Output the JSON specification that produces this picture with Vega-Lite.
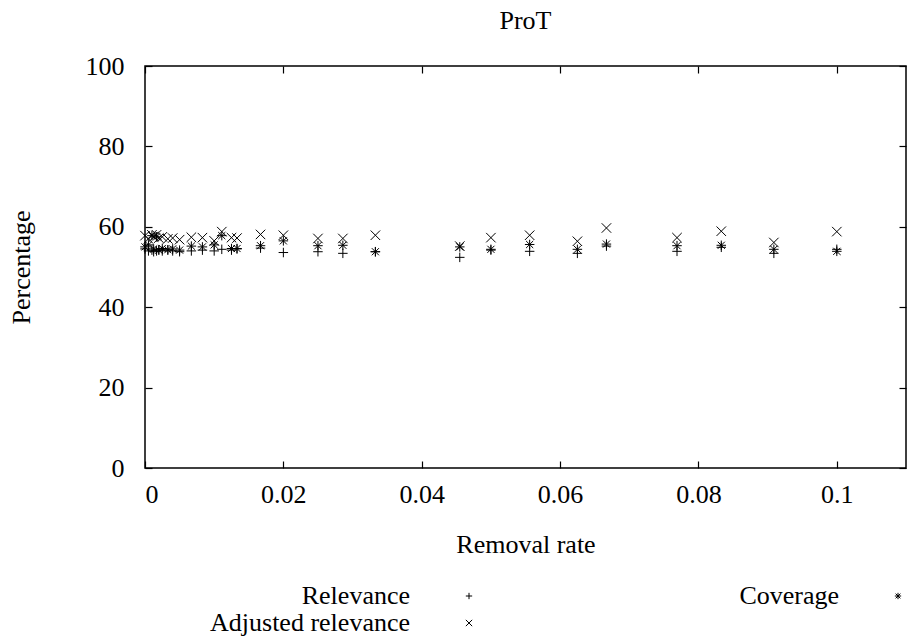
{
  "$schema": "https://vega.github.io/schema/vega-lite/v6.json",
  "width": 761,
  "height": 402,
  "autosize": "none",
  "padding": {"left": 145, "top": 66, "right": 2, "bottom": 176},
  "background": "white",
  "title": {"text": "ProT", "font": "Liberation Serif", "fontSize": 26, "fontWeight": "normal", "color": "black", "offset": 19, "anchor": "middle"},
  "config": {
    "view": {"stroke": "black", "strokeWidth": 1.5},
    "font": "Liberation Serif",
    "axis": {"labelFont": "Liberation Serif", "titleFont": "Liberation Serif"},
    "legend": {"labelFont": "Liberation Serif"}
  },
  "datasets": {
    "pts": [
      {"r": 0, "s": "Relevance", "p": 54.5}, {"r": 0, "s": "Adjusted relevance", "p": 57.8}, {"r": 0, "s": "Coverage", "p": 55.0},
      {"r": 0.0005, "s": "Relevance", "p": 54.0}, {"r": 0.0005, "s": "Adjusted relevance", "p": 57.0}, {"r": 0.0005, "s": "Coverage", "p": 55.5},
      {"r": 0.001, "s": "Relevance", "p": 54.2}, {"r": 0.001, "s": "Adjusted relevance", "p": 58.0}, {"r": 0.001, "s": "Coverage", "p": 57.8},
      {"r": 0.00125, "s": "Relevance", "p": 53.8}, {"r": 0.00125, "s": "Adjusted relevance", "p": 57.5}, {"r": 0.00125, "s": "Coverage", "p": 54.5},
      {"r": 0.00167, "s": "Relevance", "p": 54.0}, {"r": 0.00167, "s": "Adjusted relevance", "p": 58.0}, {"r": 0.00167, "s": "Coverage", "p": 57.5},
      {"r": 0.002, "s": "Relevance", "p": 54.3}, {"r": 0.002, "s": "Adjusted relevance", "p": 57.2}, {"r": 0.002, "s": "Coverage", "p": 54.2},
      {"r": 0.0025, "s": "Relevance", "p": 54.0}, {"r": 0.0025, "s": "Adjusted relevance", "p": 57.5}, {"r": 0.0025, "s": "Coverage", "p": 54.6},
      {"r": 0.0033, "s": "Relevance", "p": 54.2}, {"r": 0.0033, "s": "Adjusted relevance", "p": 57.0}, {"r": 0.0033, "s": "Coverage", "p": 54.3},
      {"r": 0.004, "s": "Relevance", "p": 54.0}, {"r": 0.004, "s": "Adjusted relevance", "p": 57.2}, {"r": 0.004, "s": "Coverage", "p": 54.5},
      {"r": 0.005, "s": "Relevance", "p": 53.8}, {"r": 0.005, "s": "Adjusted relevance", "p": 56.8}, {"r": 0.005, "s": "Coverage", "p": 54.2},
      {"r": 0.0067, "s": "Relevance", "p": 54.0}, {"r": 0.0067, "s": "Adjusted relevance", "p": 57.4}, {"r": 0.0067, "s": "Coverage", "p": 55.2},
      {"r": 0.0083, "s": "Relevance", "p": 54.2}, {"r": 0.0083, "s": "Adjusted relevance", "p": 57.3}, {"r": 0.0083, "s": "Coverage", "p": 55.0},
      {"r": 0.01, "s": "Relevance", "p": 54.0}, {"r": 0.01, "s": "Adjusted relevance", "p": 56.5}, {"r": 0.01, "s": "Coverage", "p": 55.5},
      {"r": 0.0111, "s": "Relevance", "p": 54.4}, {"r": 0.0111, "s": "Adjusted relevance", "p": 58.8}, {"r": 0.0111, "s": "Coverage", "p": 57.8},
      {"r": 0.0125, "s": "Relevance", "p": 54.2}, {"r": 0.0125, "s": "Adjusted relevance", "p": 57.3}, {"r": 0.0125, "s": "Coverage", "p": 54.6},
      {"r": 0.0133, "s": "Relevance", "p": 54.5}, {"r": 0.0133, "s": "Adjusted relevance", "p": 57.2}, {"r": 0.0133, "s": "Coverage", "p": 54.6},
      {"r": 0.0167, "s": "Relevance", "p": 54.7}, {"r": 0.0167, "s": "Adjusted relevance", "p": 58.1}, {"r": 0.0167, "s": "Coverage", "p": 55.3},
      {"r": 0.02, "s": "Relevance", "p": 53.6}, {"r": 0.02, "s": "Adjusted relevance", "p": 57.9}, {"r": 0.02, "s": "Coverage", "p": 56.5},
      {"r": 0.025, "s": "Relevance", "p": 53.8}, {"r": 0.025, "s": "Adjusted relevance", "p": 57.1}, {"r": 0.025, "s": "Coverage", "p": 55.3},
      {"r": 0.0286, "s": "Relevance", "p": 53.4}, {"r": 0.0286, "s": "Adjusted relevance", "p": 57.1}, {"r": 0.0286, "s": "Coverage", "p": 55.4},
      {"r": 0.0333, "s": "Relevance", "p": 53.8}, {"r": 0.0333, "s": "Adjusted relevance", "p": 57.9}, {"r": 0.0333, "s": "Coverage", "p": 53.8},
      {"r": 0.0455, "s": "Relevance", "p": 52.4}, {"r": 0.0455, "s": "Adjusted relevance", "p": 55.2}, {"r": 0.0455, "s": "Coverage", "p": 55.0},
      {"r": 0.05, "s": "Relevance", "p": 54.2}, {"r": 0.05, "s": "Adjusted relevance", "p": 57.3}, {"r": 0.05, "s": "Coverage", "p": 54.4},
      {"r": 0.0556, "s": "Relevance", "p": 53.9}, {"r": 0.0556, "s": "Adjusted relevance", "p": 57.9}, {"r": 0.0556, "s": "Coverage", "p": 55.6},
      {"r": 0.0625, "s": "Relevance", "p": 53.4}, {"r": 0.0625, "s": "Adjusted relevance", "p": 56.4}, {"r": 0.0625, "s": "Coverage", "p": 54.4},
      {"r": 0.0667, "s": "Relevance", "p": 55.2}, {"r": 0.0667, "s": "Adjusted relevance", "p": 59.7}, {"r": 0.0667, "s": "Coverage", "p": 55.7},
      {"r": 0.0769, "s": "Relevance", "p": 53.9}, {"r": 0.0769, "s": "Adjusted relevance", "p": 57.3}, {"r": 0.0769, "s": "Coverage", "p": 55.3},
      {"r": 0.0833, "s": "Relevance", "p": 54.9}, {"r": 0.0833, "s": "Adjusted relevance", "p": 58.9}, {"r": 0.0833, "s": "Coverage", "p": 55.4},
      {"r": 0.0909, "s": "Relevance", "p": 53.4}, {"r": 0.0909, "s": "Adjusted relevance", "p": 56.1}, {"r": 0.0909, "s": "Coverage", "p": 54.4},
      {"r": 0.1, "s": "Relevance", "p": 54.4}, {"r": 0.1, "s": "Adjusted relevance", "p": 58.8}, {"r": 0.1, "s": "Coverage", "p": 53.9}
    ]
  },
  "data": {"name": "pts"},
  "layer": [
    {
      "mark": {"type": "point", "filled": false, "stroke": "black", "strokeWidth": 1, "size": 90, "opacity": 1},
      "encoding": {
        "x": {"field": "r", "type": "quantitative", "scale": {"domain": [0, 0.11], "nice": false, "zero": false},
          "axis": {"orient": "bottom", "title": "Removal rate", "values": [0, 0.02, 0.04, 0.06, 0.08, 0.1], "format": "~g", "domain": false, "grid": false,
            "tickSize": -7, "tickColor": "black", "tickWidth": 1.2, "labelPadding": 20, "labelFontSize": 26, "labelColor": "black",
            "titleFontSize": 26, "titleFontWeight": "normal", "titleColor": "black", "titlePadding": 24}},
        "y": {"field": "p", "type": "quantitative", "scale": {"domain": [0, 100], "nice": false, "zero": false},
          "axis": {"orient": "left", "title": "Percentage", "values": [0, 20, 40, 60, 80, 100], "domain": false, "grid": false,
            "tickSize": -7, "tickColor": "black", "tickWidth": 1.2, "labelPadding": 28, "labelFontSize": 26, "labelColor": "black",
            "titleFontSize": 26, "titleFontWeight": "normal", "titleColor": "black", "titlePadding": 51}},
        "shape": {"field": "s", "type": "nominal",
          "scale": {"domain": ["Relevance", "Adjusted relevance", "Coverage"],
            "range": ["M-1,0L1,0M0,-1L0,1", "M-1,-1L1,1M-1,1L1,-1", "M-1,0L1,0M0,-1L0,1M-0.75,-0.75L0.75,0.75M-0.75,0.75L0.75,-0.75"]},
          "legend": {"orient": "none", "legendX": 311, "legendY": 517, "columns": 2, "title": null, "labelFontSize": 26, "labelColor": "black", "labelLimit": 400,
            "labelAlign": "right", "labelOffset": -72, "symbolSize": 40, "symbolStrokeColor": "black", "symbolStrokeWidth": 1, "symbolFillColor": "transparent", "columnPadding": 264, "rowPadding": 1}}
      }
    },
    {
      "mark": {"type": "point", "opacity": 0},
      "encoding": {
        "x": {"field": "r", "type": "quantitative", "axis": {"orient": "top", "title": null, "labels": false, "values": [0, 0.02, 0.04, 0.06, 0.08, 0.1], "domain": false, "grid": false, "tickSize": -7, "tickColor": "black", "tickWidth": 1.2}},
        "y": {"field": "p", "type": "quantitative", "axis": {"orient": "right", "title": null, "labels": false, "values": [0, 20, 40, 60, 80, 100], "domain": false, "grid": false, "tickSize": -7, "tickColor": "black", "tickWidth": 1.2}}
      }
    }
  ],
  "resolve": {"axis": {"x": "independent", "y": "independent"}}
}
